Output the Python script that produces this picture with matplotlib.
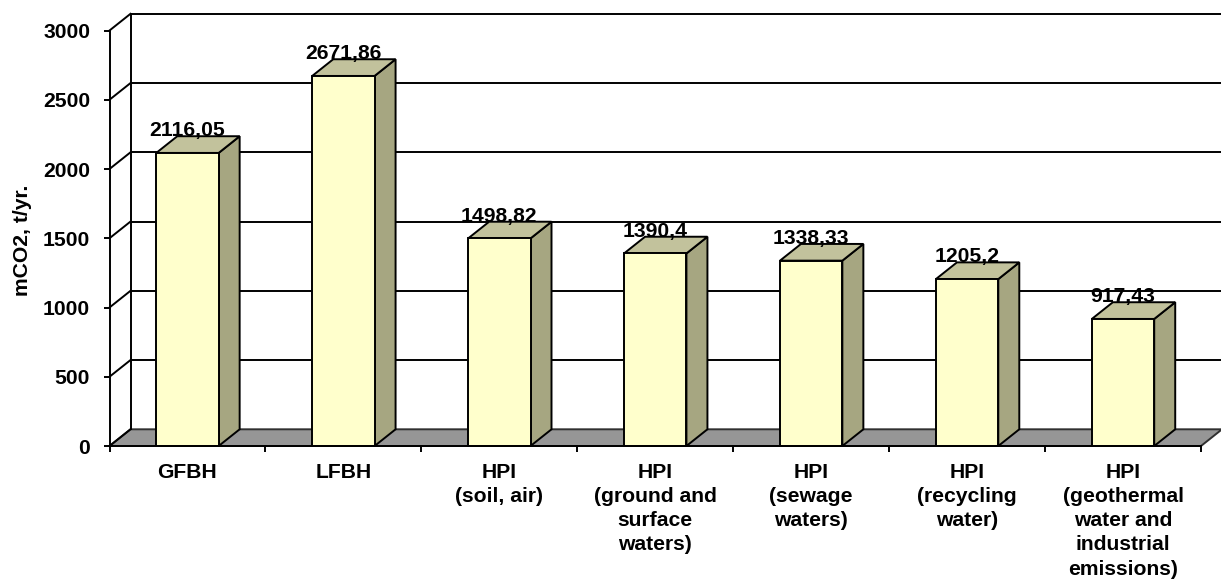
import matplotlib
matplotlib.use('Agg')
import matplotlib.pyplot as plt

plt.rcParams['font.family'] = ['Liberation Sans', 'DejaVu Sans']

categories = ['GFBH', 'LFBH', 'HPI\n(soil, air)', 'HPI\n(ground and\nsurface\nwaters)', 'HPI\n(sewage\nwaters)',
              'HPI\n(recycling\nwater)', 'HPI\n(geothermal\nwater and\nindustrial\nemissions)']
values = [2116.05, 2671.86, 1498.82, 1390.4, 1338.33, 1205.2, 917.43]
labels = ['2116,05', '2671,86', '1498,82', '1390,4', '1338,33', '1205,2', '917,43']
y_ticks = [0, 500, 1000, 1500, 2000, 2500, 3000]

W, H = 1221, 579
fig = plt.figure(figsize=(W / 100, H / 100), dpi=100)
left, right, bottom, top = 109.5, 1201, 446, 30.5
ax = fig.add_axes([left / W, 1 - bottom / H, (right - left) / W, (bottom - top) / H])
ax.set_xlim(0, 7)
ax.set_ylim(0, 3000)
ax.patch.set_visible(False)

# depth of the fake 3d box, in data units
dx = 21 / ((right - left) / 7)
dy = 16.7 / ((bottom - top) / 3000)
lw = 1.4
bar_w = 0.4
fs = 15.2

# floor
ax.fill([0, dx, 7 + dx, 7], [0, dy, dy, 0], color='#969696', ec='#303030', lw=lw, clip_on=False, zorder=1)

# back wall and grid
for v in y_ticks:
    ax.plot([0, dx], [v, v + dy], color='black', lw=lw, clip_on=False, zorder=2)
    if v > 0:
        ax.plot([dx, 7 + dx], [v + dy, v + dy], color='black', lw=lw, clip_on=False, zorder=2)
ax.plot([dx, dx], [dy, 3000 + dy], color='black', lw=lw, clip_on=False, zorder=2)

# bars
for i, v in enumerate(values):
    x0 = i + 0.5 - bar_w / 2
    x1 = i + 0.5 + bar_w / 2
    ax.fill([x1, x1 + dx, x1 + dx, x1], [0, dy, v + dy, v], fc='#A6A681', ec='black', lw=lw, clip_on=False, zorder=3)
    ax.fill([x0, x1, x1 + dx, x0 + dx], [v, v, v + dy, v + dy], fc='#C2C29C', ec='black', lw=lw, clip_on=False, zorder=3)
    ax.fill([x0, x1, x1, x0], [0, 0, v, v], fc='#FFFFCC', ec='black', lw=lw, clip_on=False, zorder=3)
    ax.text(i + 0.5, v + dy, labels[i], ha='center', va='baseline', fontsize=fs, fontweight='bold', zorder=4)

for s in ['top', 'right']:
    ax.spines[s].set_visible(False)
for s in ['left', 'bottom']:
    ax.spines[s].set_linewidth(lw)
    ax.spines[s].set_zorder(5)

ax.set_yticks(y_ticks)
ax.tick_params(axis='y', length=4, width=lw, pad=10, labelsize=fs)
for t in ax.get_yticklabels():
    t.set_fontweight('bold')

ax.set_xticks(range(8))
ax.set_xticklabels([])
ax.tick_params(axis='x', which='major', length=4, width=lw)
ax.set_xticks([i + 0.5 for i in range(7)], minor=True)
ax.set_xticklabels(categories, minor=True, fontsize=fs, fontweight='bold', linespacing=1.35)
ax.tick_params(axis='x', which='minor', length=0, pad=12)

fig.text(23 / W, 1 - 240 / H, 'mCO2, t/yr.', rotation=90, ha='center', va='center', fontsize=fs, fontweight='bold')

fig.savefig('out.png', dpi=100)
